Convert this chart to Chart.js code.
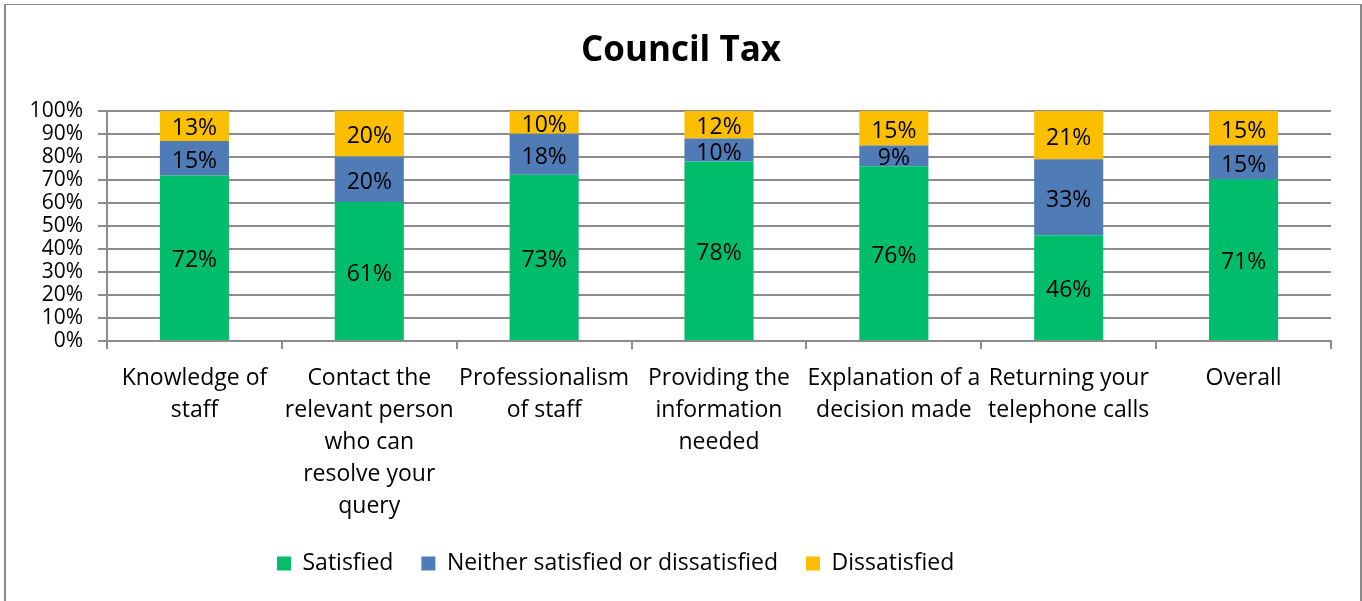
<!DOCTYPE html>
<html>
<head>
<meta charset="utf-8">
<title>Council Tax</title>
<script src="https://cdn.jsdelivr.net/npm/chart.js@4"></script>
<style>
    body { margin: 0; background: #ffffff; }
    #wrap { position: relative; width: 1362px; height: 601px; overflow: hidden; }
    #frame {
        position: absolute; left: 4px; top: 4px; width: 1354px; height: 700px;
        border-top: 1px solid #8a8a8a; border-left: 2px solid #8a8a8a; border-right: 2px solid #8a8a8a;
        pointer-events: none;
    }
</style>
</head>
<body>
<div id="wrap">
    <canvas id="councilChart" width="1362" height="601"></canvas>
    <div id="frame"></div>
</div>
<script>
const categories = [
    ["Knowledge of", "staff"],
    ["Contact the", "relevant person", "who can", "resolve your", "query"],
    ["Professionalism", "of staff"],
    ["Providing the", "information", "needed"],
    ["Explanation of a", "decision made"],
    ["Returning your", "telephone calls"],
    ["Overall"],
];
const satisfied = [72, 61, 73, 78, 76, 46, 71];
const neither = [15, 20, 18, 10, 9, 33, 15];
const dissatisfied = [13, 20, 10, 12, 15, 21, 15];
const yTicks = [0, 10, 20, 30, 40, 50, 60, 70, 80, 90, 100];

const FONT = "'Open Sans', sans-serif";
const GRID = "#8c8c8c";
const LEGEND_START_X = 277;

// 100% stacked: each bar is scaled to its own total, labels keep the read values
const totals = satisfied.map((v, i) => v + neither[i] + dissatisfied[i]);
const share = (arr) => arr.map((v, i) => (v / totals[i]) * 100);

const barLabels = {
    id: "barLabels",
    afterDatasetsDraw(chart) {
        const ctx = chart.ctx;
        ctx.save();
        ctx.font = "23px " + FONT;
        ctx.fillStyle = "#000000";
        ctx.textAlign = "center";
        ctx.textBaseline = "middle";
        chart.data.datasets.forEach((ds, di) => {
            const meta = chart.getDatasetMeta(di);
            meta.data.forEach((bar, i) => {
                const p = bar.getProps(["x", "y", "base"], true);
                ctx.fillText(ds.raw[i] + "%", p.x, (p.y + p.base) / 2 + 3);
            });
        });
        ctx.restore();
    },
};

// excel put the legend a little left of centre
const legendShift = {
    id: "legendShift",
    afterLayout(chart) {
        const lg = chart.legend;
        if (!lg || !lg.lineWidths) return;
        const pad = lg.options.labels.padding;
        const x = (lg.left + pad + lg.right - lg.lineWidths[0]) / 2;
        const dx = LEGEND_START_X - x;
        lg.left += dx;
        lg.right += dx;
    },
};

document.addEventListener("DOMContentLoaded", () => {
    const ctx = document.getElementById("councilChart").getContext("2d");
    new Chart(ctx, {
        type: "bar",
        data: {
            labels: categories,
            datasets: [
                {
                    label: "Satisfied",
                    data: share(satisfied),
                    raw: satisfied,
                    backgroundColor: "#00bd6c",
                },
                {
                    label: "Neither satisfied or dissatisfied",
                    data: share(neither),
                    raw: neither,
                    backgroundColor: "#4f7bb6",
                },
                {
                    label: "Dissatisfied",
                    data: share(dissatisfied),
                    raw: dissatisfied,
                    backgroundColor: "#fbbf00",
                },
            ],
        },
        options: {
            responsive: false,
            animation: false,
            layout: {
                padding: { left: 0, right: 0, top: 0, bottom: 16 },
            },
            datasets: {
                bar: {
                    categoryPercentage: 1,
                    barPercentage: 0.395,
                    borderWidth: 0,
                },
            },
            scales: {
                x: {
                    stacked: true,
                    offset: true,
                    grid: {
                        offset: true,
                        drawOnChartArea: false,
                        drawTicks: true,
                        tickLength: 8,
                        color: GRID,
                        lineWidth: 2,
                    },
                    border: { display: true, color: GRID, width: 2 },
                    ticks: {
                        autoSkip: false,
                        maxRotation: 0,
                        minRotation: 0,
                        padding: 13,
                        color: "#000000",
                        font: { family: FONT, size: 23, lineHeight: 1.391 },
                    },
                    afterFit(scale) {
                        scale.height = 183;
                    },
                },
                y: {
                    stacked: true,
                    min: 0,
                    max: 100,
                    afterBuildTicks(scale) {
                        scale.ticks = yTicks.map((v) => ({ value: v }));
                    },
                    grid: {
                        color: GRID,
                        lineWidth: 2,
                        drawTicks: true,
                        tickLength: 9,
                    },
                    border: { display: true, color: GRID, width: 2 },
                    ticks: {
                        autoSkip: false,
                        padding: 15,
                        color: "#000000",
                        font: { family: FONT, size: 21, lineHeight: 1 },
                        callback: function (value) {
                            return value + "%";
                        },
                    },
                    afterFit(scale) {
                        scale.width = 107;
                    },
                },
                // empty strip on the right so the title centres on the whole frame
                yRight: {
                    position: "right",
                    display: true,
                    grid: { display: false },
                    border: { display: false },
                    ticks: { display: false },
                    afterFit(scale) {
                        scale.width = 31;
                    },
                },
            },
            plugins: {
                title: {
                    display: true,
                    text: "Council Tax",
                    color: "#000000",
                    font: { family: FONT, size: 35, weight: "bold", lineHeight: 1.2 },
                    padding: { top: 30, bottom: 39 },
                },
                legend: {
                    position: "bottom",
                    labels: {
                        color: "#000000",
                        font: { family: FONT, size: 23 },
                        boxWidth: 14,
                        boxHeight: 14,
                        padding: 28,
                    },
                },
                tooltip: {
                    callbacks: {
                        label: function (context) {
                            return context.dataset.label + ": " + context.dataset.raw[context.dataIndex] + "%";
                        },
                    },
                },
            },
        },
        plugins: [barLabels, legendShift],
    });
});
</script>
</body>
</html>
